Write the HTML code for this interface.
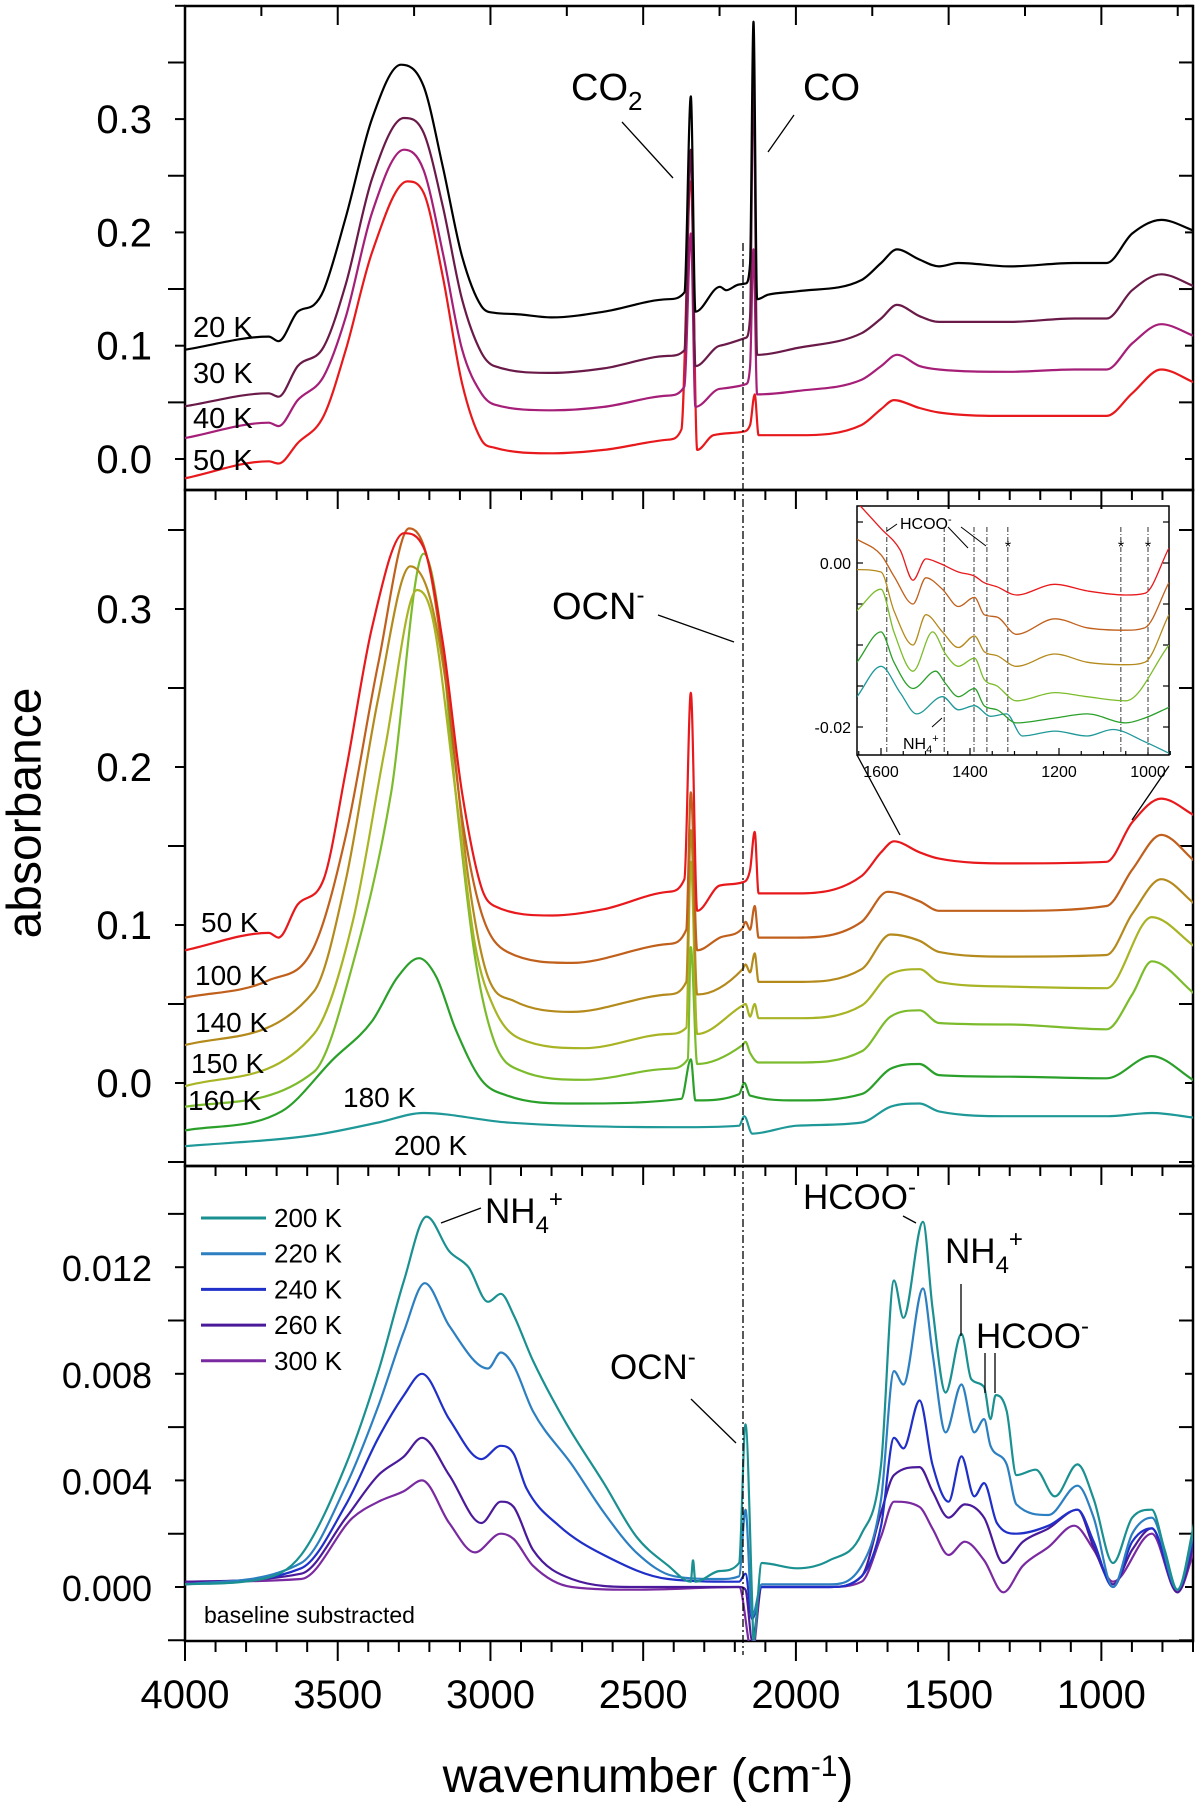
<!DOCTYPE html>
<html><head><meta charset="utf-8"><style>
html,body{margin:0;padding:0;background:#fff}
svg{display:block;font-family:"Liberation Sans",Arial,sans-serif}
</style></head><body>
<svg id="fig" width="1200" height="1806" viewBox="0 0 1200 1806" xmlns="http://www.w3.org/2000/svg">
<defs>
<clipPath id="cTop"><rect x="185" y="6" width="1008" height="484"/></clipPath>
<clipPath id="cMid"><rect x="185" y="490" width="1008" height="676"/></clipPath>
<clipPath id="cBot"><rect x="185" y="1166" width="1008" height="475"/></clipPath>
<clipPath id="cIns"><rect x="857" y="506" width="312" height="249"/></clipPath>
</defs>
<rect x="857" y="506" width="312" height="249" fill="#fff"/>
<g id="axes"></g>
<g id="series"></g>
<g id="ann">
<line x1="743" y1="243" x2="743" y2="1655" stroke="#000" stroke-width="1.3" stroke-dasharray="8,3,2,3"/>
<text x="25" y="813" font-size="48" text-anchor="middle" transform="rotate(-90 25 813)" dominant-baseline="central">absorbance</text>
<text x="648" y="1792" font-size="48" text-anchor="middle">wavenumber (cm<tspan baseline-shift="super" font-size="30">-1</tspan>)</text>
<g font-size="29">
<text x="193" y="337">20 K</text>
<text x="193" y="383">30 K</text>
<text x="193" y="428">40 K</text>
<text x="193" y="470">50 K</text>
</g>
<text x="571" y="100" font-size="38">CO<tspan font-size="26" dy="10">2</tspan></text>
<line x1="622" y1="122" x2="673" y2="178" stroke="#000" stroke-width="1.3"/>
<text x="803" y="100" font-size="38">CO</text>
<line x1="794" y1="115" x2="768" y2="152" stroke="#000" stroke-width="1.3"/>
<g font-size="28">
<text x="201" y="932">50 K</text>
<text x="195" y="985">100 K</text>
<text x="195" y="1032">140 K</text>
<text x="191" y="1073">150 K</text>
<text x="188" y="1110">160 K</text>
<text x="343" y="1107">180 K</text>
<text x="394" y="1155">200 K</text>
</g>
<text x="552" y="619" font-size="38">OCN<tspan font-size="24" dy="-16">-</tspan></text>
<line x1="658" y1="615" x2="734" y2="642" stroke="#000" stroke-width="1.3"/>
<line x1="857" y1="755" x2="900" y2="835" stroke="#000" stroke-width="1.3"/>
<line x1="1169" y1="766" x2="1132" y2="820" stroke="#000" stroke-width="1.3"/>
<text x="485" y="1223" font-size="35">NH<tspan font-size="24" dy="10">4</tspan><tspan font-size="24" dy="-26">+</tspan></text>
<line x1="441" y1="1223" x2="481" y2="1208" stroke="#000" stroke-width="1.3"/>
<text x="803" y="1209" font-size="35">HCOO<tspan font-size="24" dy="-14">-</tspan></text>
<line x1="903" y1="1216" x2="916" y2="1223" stroke="#000" stroke-width="1.3"/>
<text x="945" y="1263" font-size="35">NH<tspan font-size="24" dy="10">4</tspan><tspan font-size="24" dy="-26">+</tspan></text>
<line x1="961" y1="1284" x2="961" y2="1336" stroke="#000" stroke-width="1.3"/>
<text x="976" y="1348" font-size="35">HCOO<tspan font-size="24" dy="-14">-</tspan></text>
<line x1="985" y1="1353" x2="985" y2="1393" stroke="#000" stroke-width="1.3"/>
<line x1="995" y1="1353" x2="995" y2="1393" stroke="#000" stroke-width="1.3"/>
<text x="610" y="1379" font-size="35">OCN<tspan font-size="24" dy="-14">-</tspan></text>
<line x1="691" y1="1399" x2="736" y2="1443" stroke="#000" stroke-width="1.3"/>
<text x="204" y="1623" font-size="23">baseline substracted</text>
<g id="legend"></g>
<g font-size="16">
<text x="900" y="529">HCOO<tspan font-size="11" dy="-6">-</tspan></text>
<line x1="887" y1="531" x2="897" y2="524" stroke="#000" stroke-width="1"/>
<line x1="948" y1="527" x2="968" y2="548" stroke="#000" stroke-width="1"/>
<line x1="961" y1="527" x2="986" y2="546" stroke="#000" stroke-width="1"/>
<text x="903" y="749">NH<tspan font-size="11" dy="4">4</tspan><tspan font-size="11" dy="-11">+</tspan></text>
<line x1="932" y1="727" x2="942" y2="718" stroke="#000" stroke-width="1"/>
<text x="1008" y="552" text-anchor="middle" font-size="16">*</text>
<text x="1121" y="552" text-anchor="middle" font-size="16">*</text>
<text x="1148" y="552" text-anchor="middle" font-size="16">*</text>
</g>
</g>
</svg>
<script>
// ===== Top panel data (wavenumber cm-1, absorbance) =====
const t20Wn=[4000,3726,3694,3631,3578,3546,3473,3388,3293,3219,3156,3093,3030,2987,2924,2797,2629,2418,2365,2344,2329,2249,2228,2186,2164,2150,2139,2127,2091,1996,1785,1721,1669,1595,1532,1468,1300,1089,983,899,804,692];
const t20Ab=[0.0965,0.108,0.104,0.130,0.136,0.149,0.214,0.300,0.348,0.329,0.258,0.179,0.135,0.129,0.128,0.125,0.130,0.141,0.147,0.320,0.130,0.152,0.149,0.154,0.155,0.173,0.386,0.141,0.145,0.148,0.158,0.173,0.185,0.176,0.170,0.173,0.170,0.173,0.173,0.199,0.211,0.201];
const t30Wn=[4000,3726,3694,3631,3546,3473,3388,3283,3219,3156,3093,3030,2987,2797,2629,2418,2365,2344,2329,2249,2164,2150,2139,2127,1996,1785,1721,1669,1595,1532,1300,1089,983,899,804,692];
const t30Ab=[0.0465,0.058,0.055,0.082,0.099,0.155,0.247,0.301,0.288,0.223,0.141,0.094,0.082,0.076,0.080,0.091,0.096,0.273,0.082,0.100,0.107,0.126,0.338,0.092,0.098,0.111,0.124,0.136,0.126,0.121,0.121,0.124,0.124,0.149,0.163,0.152];
const t40Wn=[4000,3726,3694,3631,3546,3473,3388,3283,3219,3156,3093,3030,2987,2797,2629,2418,2365,2344,2329,2249,2164,2150,2139,2127,1996,1785,1721,1669,1595,1532,1300,1089,983,899,804,692];
const t40Ab=[0.0185,0.032,0.029,0.052,0.073,0.126,0.217,0.273,0.255,0.182,0.097,0.058,0.048,0.043,0.046,0.056,0.064,0.199,0.046,0.062,0.066,0.082,0.185,0.057,0.060,0.070,0.082,0.092,0.082,0.079,0.077,0.079,0.079,0.102,0.119,0.108];
const t50Wn=[4000,3726,3694,3631,3546,3473,3388,3272,3219,3156,3093,3030,2987,2797,2629,2418,2375,2344,2323,2270,2175,2150,2135,2122,1996,1785,1721,1679,1595,1532,1300,983,899,804,692];
const t50Ab=[-0.017,-0.002,-0.004,0.014,0.038,0.097,0.182,0.245,0.235,0.161,0.067,0.017,0.010,0.005,0.008,0.017,0.026,0.245,0.008,0.021,0.024,0.030,0.057,0.021,0.021,0.030,0.044,0.052,0.045,0.041,0.038,0.038,0.058,0.079,0.067];
// ===== Middle panel data =====
const m50Wn=[4000,3726,3694,3631,3546,3473,3388,3283,3219,3156,3093,3030,2987,2797,2629,2418,2365,2344,2323,2249,2175,2150,2135,2122,1996,1785,1721,1679,1595,1532,1300,983,899,804,692];
const m50Ab=[0.084,0.095,0.092,0.113,0.129,0.198,0.288,0.348,0.339,0.279,0.184,0.124,0.112,0.106,0.110,0.121,0.129,0.247,0.109,0.125,0.127,0.135,0.159,0.120,0.120,0.131,0.146,0.153,0.146,0.142,0.139,0.140,0.165,0.180,0.169];
const m100Wn=[4000,3726,3578,3473,3367,3266,3209,3156,3093,3030,2945,2734,2418,2359,2344,2323,2249,2175,2165,2150,2135,2122,1996,1785,1700,1595,1532,1300,983,899,804,692];
const m100Ab=[0.054,0.065,0.086,0.157,0.266,0.351,0.334,0.271,0.168,0.108,0.083,0.076,0.088,0.097,0.184,0.084,0.092,0.098,0.102,0.097,0.112,0.092,0.092,0.102,0.121,0.115,0.109,0.109,0.112,0.135,0.157,0.140];
const m140Wn=[4000,3578,3473,3367,3262,3198,3135,3072,3008,2924,2734,2418,2359,2344,2323,2175,2165,2150,2135,2122,1996,1785,1690,1595,1532,1300,983,899,804,692];
const m140Ab=[0.024,0.058,0.129,0.244,0.327,0.307,0.238,0.129,0.067,0.052,0.045,0.056,0.064,0.160,0.056,0.072,0.075,0.070,0.082,0.064,0.064,0.072,0.094,0.090,0.083,0.080,0.081,0.107,0.129,0.113];
const m150Wn=[4000,3578,3451,3346,3240,3188,3114,3051,2987,2903,2692,2418,2359,2344,2323,2175,2165,2150,2135,2122,1996,1785,1690,1595,1532,1300,983,835,692];
const m150Ab=[-0.002,0.031,0.102,0.211,0.312,0.293,0.184,0.088,0.047,0.028,0.022,0.031,0.035,0.140,0.031,0.049,0.050,0.042,0.050,0.041,0.041,0.049,0.069,0.072,0.064,0.061,0.060,0.105,0.086];
const m160Wn=[4000,3578,3451,3325,3219,3167,3114,3051,2987,2903,2692,2418,2354,2344,2323,2175,2165,2150,2122,1996,1785,1690,1595,1532,1300,983,899,835,692];
const m160Ab=[-0.015,0.007,0.075,0.184,0.335,0.293,0.184,0.080,0.026,0.008,0.002,0.009,0.015,0.086,0.012,0.024,0.026,0.019,0.013,0.013,0.020,0.042,0.046,0.038,0.037,0.034,0.056,0.077,0.056];
const m180Wn=[4000,3684,3515,3388,3304,3234,3177,3114,3030,2945,2734,2375,2344,2329,2186,2169,2150,1996,1785,1690,1595,1532,1300,983,835,692];
const m180Ab=[-0.030,-0.018,0.015,0.039,0.067,0.079,0.067,0.034,0.002,-0.008,-0.013,-0.010,0.015,-0.011,-0.007,0.000,-0.008,-0.011,-0.007,0.009,0.012,0.005,0.004,0.003,0.017,0.001];
const m200Wn=[4000,3578,3367,3219,2945,2354,2186,2169,2143,1996,1785,1690,1595,1532,1300,983,835,692];
const m200Ab=[-0.040,-0.033,-0.025,-0.019,-0.025,-0.028,-0.027,-0.021,-0.032,-0.027,-0.025,-0.015,-0.013,-0.018,-0.021,-0.021,-0.019,-0.022];
// ===== Inset data (1654-953 cm-1) =====
const iRedWn=[1654,1600,1557,1528,1499,1470,1426,1390,1368,1339,1296,1209,1137,1050,1007,953];
const iRedAb=[0.0074,0.0042,0.0016,-0.0021,0.0005,0.0,-0.0011,-0.0016,-0.0024,-0.0029,-0.0039,-0.0026,-0.0034,-0.0039,-0.0037,0.0018];
const iOrWn=[1654,1600,1571,1528,1499,1462,1426,1390,1368,1339,1296,1209,1137,1050,1007,953];
const iOrAb=[0.0029,0.0010,-0.0016,-0.0050,-0.0018,-0.0032,-0.0053,-0.0042,-0.0063,-0.0066,-0.0087,-0.0068,-0.0079,-0.0082,-0.0079,-0.0024];
const iOcWn=[1654,1600,1571,1528,1499,1462,1426,1390,1368,1339,1296,1209,1137,1050,1007,953];
const iOcAb=[-0.0008,-0.0011,-0.0058,-0.0100,-0.0063,-0.0084,-0.0103,-0.0089,-0.0108,-0.0113,-0.0126,-0.0111,-0.0121,-0.0124,-0.0121,-0.0063];
const iYgWn=[1654,1600,1571,1528,1484,1455,1426,1390,1368,1339,1296,1209,1137,1050,953];
const iYgAb=[-0.0058,-0.0032,-0.0084,-0.0132,-0.0084,-0.0111,-0.0126,-0.0116,-0.0142,-0.0150,-0.0168,-0.0158,-0.0163,-0.0168,-0.0100];
const iGrWn=[1654,1600,1571,1528,1477,1455,1426,1390,1368,1339,1296,1209,1137,1050,1007,953];
const iGrAb=[-0.0121,-0.0084,-0.0121,-0.0153,-0.0132,-0.0147,-0.0163,-0.0153,-0.0174,-0.0179,-0.0195,-0.0189,-0.0184,-0.0195,-0.0189,-0.0176];
const iTeWn=[1654,1600,1557,1520,1462,1426,1390,1354,1318,1282,1209,1137,1079,1007,953];
const iTeAb=[-0.0163,-0.0126,-0.0158,-0.0184,-0.0163,-0.0179,-0.0174,-0.0187,-0.0184,-0.0211,-0.0205,-0.0211,-0.0203,-0.0218,-0.0232];
// ===== Bottom panel data (baseline subtracted) =====
const b200Wn=[4000,3747,3620,3473,3367,3283,3209,3135,3072,3008,2966,2924,2861,2755,2629,2523,2418,2344,2337,2329,2249,2186,2165,2143,2139,2112,1996,1890,1785,1721,1679,1648,1584,1553,1510,1458,1426,1384,1363,1346,1310,1278,1215,1152,1078,1025,962,899,835,793,751,692];
const b200Ab=[0.0001,0.0003,0.0012,0.0046,0.0081,0.0115,0.0139,0.0126,0.0120,0.0107,0.0110,0.0102,0.0085,0.0062,0.0039,0.0019,0.0008,0.0002,0.0010,0.0002,0.0006,0.0009,0.0061,-0.0006,-0.0020,0.0009,0.0007,0.0010,0.0020,0.0046,0.0115,0.0101,0.0137,0.0105,0.0073,0.0095,0.0078,0.0075,0.0063,0.0072,0.0066,0.0042,0.0044,0.0034,0.0046,0.0033,0.0009,0.0026,0.0029,0.0014,-0.0001,0.0026];
const b220Wn=[4000,3620,3473,3367,3283,3215,3135,3008,2966,2924,2861,2734,2629,2523,2397,2249,2186,2165,2143,2112,1890,1785,1721,1679,1648,1584,1553,1510,1458,1416,1384,1363,1310,1278,1173,1078,1025,962,899,835,751,692];
const b220Ab=[0.0001,0.0009,0.0038,0.0068,0.0096,0.0114,0.0098,0.0082,0.0088,0.0083,0.0066,0.0046,0.0028,0.0013,0.0004,0.0003,0.0004,0.0029,-0.0011,0.0001,0.0001,0.0008,0.0033,0.0081,0.0076,0.0112,0.0088,0.0058,0.0076,0.0058,0.0063,0.0053,0.0046,0.0031,0.0027,0.0038,0.0026,0.0000,0.0020,0.0026,-0.0001,0.0023];
const b240Wn=[4000,3620,3473,3367,3283,3224,3135,3030,2966,2924,2882,2776,2629,2418,2186,2165,2143,2112,1890,1785,1721,1679,1648,1595,1553,1500,1458,1416,1384,1342,1278,1173,1078,1025,962,899,835,751,692];
const b240Ab=[0.0001,0.0007,0.0031,0.0056,0.0072,0.0080,0.0063,0.0048,0.0053,0.0050,0.0037,0.0023,0.0012,0.0003,0.0002,0.0005,-0.0012,0.0000,0.0000,0.0004,0.0023,0.0056,0.0052,0.0070,0.0046,0.0032,0.0049,0.0034,0.0039,0.0024,0.0020,0.0023,0.0029,0.0017,0.0000,0.0017,0.0022,-0.0001,0.0021];
const b260Wn=[4000,3620,3473,3367,3283,3224,3135,3030,2966,2924,2861,2734,2523,2186,2165,2143,2112,1890,1785,1721,1679,1595,1553,1500,1447,1384,1321,1257,1173,1078,1025,962,899,835,751,692];
const b260Ab=[0.0002,0.0005,0.0026,0.0042,0.0049,0.0056,0.0042,0.0024,0.0032,0.0030,0.0014,0.0003,0.0000,0.0000,-0.0001,-0.0020,0.0000,0.0000,0.0004,0.0028,0.0042,0.0045,0.0036,0.0026,0.0031,0.0026,0.0009,0.0017,0.0022,0.0029,0.0015,0.0001,0.0014,0.0022,-0.0002,0.0018];
const b300Wn=[4000,3620,3451,3367,3283,3224,3135,3051,2966,2924,2861,2734,2523,2186,2143,2112,1890,1785,1721,1679,1595,1553,1500,1447,1384,1321,1257,1173,1089,1025,962,835,751,692];
const b300Ab=[0.0002,0.0003,0.0026,0.0032,0.0036,0.0040,0.0024,0.0013,0.0020,0.0018,0.0008,0.0000,-0.0001,0.0000,-0.0025,0.0000,0.0000,0.0002,0.0019,0.0032,0.0030,0.0022,0.0012,0.0017,0.0010,-0.0002,0.0008,0.0015,0.0023,0.0014,0.0002,0.0020,-0.0002,0.0015];
// ===== tick labels =====
const xTickLabels=[4000,3500,3000,2500,2000,1500,1000];
const topYTicks=["0.0","0.1","0.2","0.3"];
const midYTicks=["0.0","0.1","0.2","0.3"];
const botYTicks=["0.000","0.004","0.008","0.012"];
const insXTicks=[1600,1400,1200,1000];
const insYTicks=["0.00","-0.02"];
const legendLabels=["200 K","220 K","240 K","260 K","300 K"];

const NS="http://www.w3.org/2000/svg";
const X0=185,X1=1193;
function xs(w){return X0+(4000-w)*(X1-X0)/3300;}
function yTop(v){return 459-v*1133;}
function yMid(v){return 1083-v*1580;}
function yBot(v){return 1587-v*26650;}
function xIn(w){return 881+(1600-w)*0.445;}
function yIn(v){return 563-v*8200;}
function mk(tag,attrs,parent){const e=document.createElementNS(NS,tag);for(const k in attrs)e.setAttribute(k,attrs[k]);parent.appendChild(e);return e;}
const axes=document.getElementById('axes');
const ser=document.getElementById('series');

// monotone cubic (Fritsch-Carlson) path through pixel points sorted by x
function monoPath(P){
  const n=P.length;if(n<2)return '';
  const dx=[],m=[],t=new Array(n);
  for(let i=0;i<n-1;i++){dx[i]=P[i+1][0]-P[i][0];m[i]=dx[i]?(P[i+1][1]-P[i][1])/dx[i]:0;}
  t[0]=m[0];t[n-1]=m[n-2];
  for(let i=1;i<n-1;i++){t[i]=(m[i-1]*m[i]<=0)?0:(m[i-1]+m[i])/2;}
  for(let i=0;i<n-1;i++){if(m[i]===0){t[i]=0;t[i+1]=0;continue;}
    const a=t[i]/m[i],b=t[i+1]/m[i],s=a*a+b*b;if(s>9){const k=3/Math.sqrt(s);t[i]=k*a*m[i];t[i+1]=k*b*m[i];}}
  let d='M'+P[0][0].toFixed(1)+','+P[0][1].toFixed(1);
  for(let i=0;i<n-1;i++){const h=dx[i]/3;
    d+='C'+(P[i][0]+h).toFixed(1)+','+(P[i][1]+t[i]*h).toFixed(1)+' '+(P[i+1][0]-h).toFixed(1)+','+(P[i+1][1]-t[i+1]*h).toFixed(1)+' '+P[i+1][0].toFixed(1)+','+P[i+1][1].toFixed(1);}
  return d;
}
function drawSeries(wn,ab,fx,fy,color,clip,name,w){
  const n=Math.min(wn.length,ab.length);const P=[];
  for(let i=0;i<n;i++)P.push([fx(wn[i]),fy(ab[i])]);
  P.sort((a,b)=>a[0]-b[0]);
  const p=mk('path',{d:monoPath(P),fill:'none',stroke:color,'stroke-width':w||2.2,'stroke-linejoin':'round','clip-path':'url(#'+clip+')'},ser);
  
  
}
// Top
drawSeries(t50Wn,t50Ab,xs,yTop,'#e8191c','cTop','series-50k-top');
drawSeries(t40Wn,t40Ab,xs,yTop,'#a51e78','cTop','series-40k');
drawSeries(t30Wn,t30Ab,xs,yTop,'#6a1a48','cTop','series-30k');
drawSeries(t20Wn,t20Ab,xs,yTop,'#000000','cTop','series-20k');
// Middle
drawSeries(m200Wn,m200Ab,xs,yMid,'#1f9898','cMid','series-200k-mid');
drawSeries(m180Wn,m180Ab,xs,yMid,'#2aa02a','cMid','series-180k');
drawSeries(m160Wn,m160Ab,xs,yMid,'#7cbc2c','cMid','series-160k');
drawSeries(m150Wn,m150Ab,xs,yMid,'#a8b424','cMid','series-150k');
drawSeries(m140Wn,m140Ab,xs,yMid,'#b58a1c','cMid','series-140k');
drawSeries(m100Wn,m100Ab,xs,yMid,'#c0601c','cMid','series-100k');
drawSeries(m50Wn,m50Ab,xs,yMid,'#e8191c','cMid','series-50k-mid');
// Bottom
const legCols=['#1a9090','#2c7fc0','#1f2fc8','#4a1a9a','#7a2aa0'];
drawSeries(b300Wn,b300Ab,xs,yBot,legCols[4],'cBot','series-300k');
drawSeries(b260Wn,b260Ab,xs,yBot,legCols[3],'cBot','series-260k');
drawSeries(b240Wn,b240Ab,xs,yBot,legCols[2],'cBot','series-240k');
drawSeries(b220Wn,b220Ab,xs,yBot,legCols[1],'cBot','series-220k');
drawSeries(b200Wn,b200Ab,xs,yBot,legCols[0],'cBot','series-200k-bottom');
// Inset
[[1587],[1458],[1391],[1362],[1315],[1061],[1000]].forEach(a=>{
  const l=mk('line',{x1:xIn(a[0]),x2:xIn(a[0]),y1:527,y2:753,stroke:'#333','stroke-width':1,'stroke-dasharray':'5,2,1,2'},ser);
  
  
});
drawSeries(iTeWn,iTeAb,xIn,yIn,'#1f9898','cIns','inset-series-200k',1.3);
drawSeries(iGrWn,iGrAb,xIn,yIn,'#2aa02a','cIns','inset-series-180k',1.3);
drawSeries(iYgWn,iYgAb,xIn,yIn,'#7cbc2c','cIns','inset-series-160k',1.3);
drawSeries(iOcWn,iOcAb,xIn,yIn,'#b58a1c','cIns','inset-series-140k',1.3);
drawSeries(iOrWn,iOrAb,xIn,yIn,'#c0601c','cIns','inset-series-100k',1.3);
drawSeries(iRedWn,iRedAb,xIn,yIn,'#e8191c','cIns','inset-series-50k',1.3);

// Frames
function frame(y0,y1,name){const r=mk('rect',{x:X0,y:y0,width:X1-X0,height:y1-y0,fill:'none',stroke:'#000','stroke-width':2.5},axes);}
frame(6,490,'top-panel-frame');frame(490,1166,'middle-panel-frame');frame(1166,1641,'bottom-panel-frame');
const insR=mk('rect',{x:857,y:506,width:312,height:249,fill:'none',stroke:'#000','stroke-width':1.5},axes);


function ln(x1,y1,x2,y2,w){mk('line',{x1:x1,y1:y1,x2:x2,y2:y2,stroke:'#000','stroke-width':w||2},axes);}
// x ticks
for(let w=4000;w>=700;w-=250){const x=xs(w);ln(x,6,x,6+(w%500==0?19:10));}
[490,1166].forEach(y0=>{for(let w=4000;w>=700;w-=100){const x=xs(w);ln(x,y0,x,y0+(w%500==0?19:10));}});
for(let w=4000;w>=700;w-=100){const x=xs(w);ln(x,1641,x,1641+(w%500==0?20:11));}
xTickLabels.forEach(v=>{const t=mk('text',{x:xs(v),y:1708,'font-size':40,'text-anchor':'middle'},axes);t.textContent=v;});
// y ticks
function yTicks(fy,vmin,vmax,step,majEvery,labels,y0,y1,name){
  let k=0;
  for(let v=vmin;v<=vmax+1e-9;v+=step,k++){const y=fy(v);if(y<y0-1||y>y1+1)continue;
    const maj=(k%majEvery==0);ln(X0-(maj?17:10),y,X0,y);ln(X1,y,X1-(maj?14:8),y);}
  labels.forEach((s,i)=>{const v=parseFloat(s);const t=mk('text',{x:152,y:fy(v)+14,'font-size':name=='bot'?36:40,'text-anchor':'end'},axes);t.textContent=s;});
}
yTicks(yTop,-0.05,0.4,0.05,2,topYTicks,6,490,'top');
yTicks(yMid,-0.05,0.35,0.05,2,midYTicks,490,1166,'mid');
yTicks(yBot,-0.002,0.016,0.002,2,botYTicks,1166,1641,'bot');
// inset ticks
for(let v=0.005;v>=-0.0231;v-=0.005){const y=yIn(v);ln(857,y,863,y,1.2);ln(1169,y,1163,y,1.2);}
for(let w=1650;w>=950;w-=50){const x=xIn(w);ln(x,755,x,w%200==0?748:751,1.2);}
insXTicks.forEach(v=>{const t=mk('text',{x:xIn(v),y:777,'font-size':16,'text-anchor':'middle'},axes);t.textContent=v;});
insYTicks.forEach(s=>{const t=mk('text',{x:851,y:yIn(parseFloat(s))+6,'font-size':16,'text-anchor':'end'},axes);t.textContent=s;});
// legend
const leg=document.getElementById('legend');
legendLabels.forEach((s,i)=>{const y=1218+i*35.7;
  const l=mk('line',{x1:201,x2:266,y1:y,y2:y,stroke:legCols[i],'stroke-width':3},leg);
  
  
  const t=mk('text',{x:274,y:y+9,'font-size':26},leg);t.textContent=s;
  
  
});
</script>
</body></html>
